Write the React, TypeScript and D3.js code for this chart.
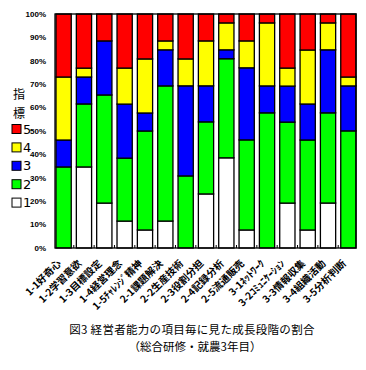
import * as d3 from 'd3'
import React, { useEffect, useRef } from 'react'

const categories = [
  '1-1好奇心', '1-2学習意欲', '1-3目標設定', '1-4経営理念', '1-5ﾁｬﾚﾝｼﾞ精神',
  '2-1課題解決', '2-2生産技術', '2-3役割分担', '2-4記録分析', '2-5流通販売',
  '3-1ﾈｯﾄﾜｰｸ', '3-2ｺﾐｭﾆｹｰｼｮﾝ', '3-3情報収集', '3-4組織活動', '3-5分析判断'
]

// percentage of respondents at each level
const level1 = [0, 34.6, 19.2, 11.5, 7.7, 11.5, 0, 23.1, 38.5, 7.7, 0, 19.2, 7.7, 19.2, 0]
const level2 = [34.6, 26.9, 46.2, 26.9, 42.3, 57.7, 30.8, 30.8, 42.3, 38.5, 57.7, 34.6, 38.5, 38.5, 50.0]
const level3 = [11.5, 11.5, 23.1, 23.1, 7.7, 15.4, 38.5, 15.4, 3.8, 30.8, 11.5, 15.4, 15.4, 26.9, 19.2]
const level4 = [26.9, 3.8, 0, 15.4, 23.1, 3.8, 11.5, 19.2, 11.5, 11.5, 26.9, 7.7, 23.1, 11.5, 3.8]
const level5 = [26.9, 23.1, 11.5, 23.1, 19.2, 11.5, 19.2, 11.5, 3.8, 11.5, 3.8, 23.1, 15.4, 3.8, 26.9]

const levels = ['1', '2', '3', '4', '5']
const colors = ['#ffffff', '#00ff00', '#0000ff', '#ffff00', '#ff0000']
const yTicks = [0, 10, 20, 30, 40, 50, 60, 70, 80, 90, 100]

const jp = '"Noto Sans CJK JP", sans-serif'

export default function App() {
  const ref = useRef<SVGSVGElement>(null)

  useEffect(() => {
    const svg = d3.select(ref.current)
    svg.selectAll('*').remove()

    const left = 55, right = 356, top = 14, bottom = 248

    const rows = categories.map((c, i) => ({
      cat: c,
      '1': level1[i], '2': level2[i], '3': level3[i], '4': level4[i], '5': level5[i]
    }))
    const series = d3.stack<any>().keys(levels).offset(d3.stackOffsetExpand)(rows)

    const x = d3.scaleBand().domain(categories).range([left + 1, right]).paddingInner(0.25).paddingOuter(0)
    const y = d3.scaleLinear().domain([0, 1]).range([bottom, top])

    // bars
    svg.append('g')
      .selectAll('g')
      .data(series)
      .join('g')
      .attr('fill', (d, i) => colors[i])
      .selectAll('rect')
      .data(d => d)
      .join('rect')
      .filter(d => d[1] - d[0] > 0)
      .attr('x', d => x(d.data.cat)!)
      .attr('width', x.bandwidth())
      .attr('y', d => y(d[1]))
      .attr('height', d => y(d[0]) - y(d[1]))
      .attr('stroke', '#000')
      .attr('stroke-width', 1.3)

    // frame
    svg.append('rect')
      .attr('x', left).attr('y', top)
      .attr('width', right - left).attr('height', bottom - top)
      .attr('fill', 'none').attr('stroke', '#000').attr('stroke-width', 1.3)

    // bottom tick marks between categories
    svg.append('g')
      .selectAll('line')
      .data(categories.slice(1))
      .join('line')
      .attr('x1', d => x(d)! - x.step() * 0.125)
      .attr('x2', d => x(d)! - x.step() * 0.125)
      .attr('y1', bottom)
      .attr('y2', bottom - 3)
      .attr('stroke', '#000')

    // y tick labels
    svg.append('g')
      .selectAll('text')
      .data(yTicks)
      .join('text')
      .attr('x', 46)
      .attr('y', d => y(d / 100))
      .attr('dy', '0.35em')
      .attr('text-anchor', 'end')
      .attr('font-family', 'Arial, "Liberation Sans", sans-serif')
      .attr('font-weight', 'bold')
      .attr('font-size', 8)
      .text(d => d + '%')

    // x labels
    svg.append('g')
      .selectAll('text')
      .data(categories)
      .join('text')
      .attr('transform', d => `translate(${x(d)! + x.bandwidth() / 2 - 5},${bottom + 13}) rotate(-45)`)
      .attr('text-anchor', 'end')
      .attr('dominant-baseline', 'central')
      .attr('font-family', jp)
      .attr('font-weight', 'bold')
      .attr('font-size', 10)
      .text(d => d)

    // legend
    svg.append('text').attr('x', 19).attr('y', 93).attr('text-anchor', 'middle')
      .attr('dominant-baseline', 'central').attr('font-family', jp).attr('font-size', 12).text('指')
    svg.append('text').attr('x', 19).attr('y', 112).attr('text-anchor', 'middle')
      .attr('dominant-baseline', 'central').attr('font-family', jp).attr('font-size', 12).text('標')

    const legendOrder = [4, 3, 2, 1, 0]
    const lg = svg.append('g')
      .selectAll('g')
      .data(legendOrder)
      .join('g')
      .attr('transform', (d, i) => `translate(12,${129 + i * 18.4})`)
    lg.append('rect')
      .attr('x', 0).attr('y', -4.5).attr('width', 9).attr('height', 9)
      .attr('fill', d => colors[d]).attr('stroke', '#000')
    lg.append('text')
      .attr('x', 11).attr('y', 0).attr('dy', '0.36em')
      .attr('font-family', '"DejaVu Sans", sans-serif')
      .attr('font-size', 13)
      .text(d => levels[d])

    // captions
    svg.append('text').attr('x', 192).attr('y', 329).attr('text-anchor', 'middle')
      .attr('dominant-baseline', 'central').attr('font-family', jp).attr('font-size', 11.5)
      .attr('letter-spacing', 0.3)
      .text('図3  経営者能力の項目毎に見た成長段階の割合')
    svg.append('text').attr('x', 195).attr('y', 346).attr('text-anchor', 'middle')
      .attr('dominant-baseline', 'central').attr('font-family', jp).attr('font-size', 11.5)
      .text('（総合研修・就農3年目）')
  }, [])

  return (
    <svg
      ref={ref}
      width="366"
      height="370"
      style={{ position: 'absolute', left: 0, top: 0, background: '#fff' }}
    />
  )
}
